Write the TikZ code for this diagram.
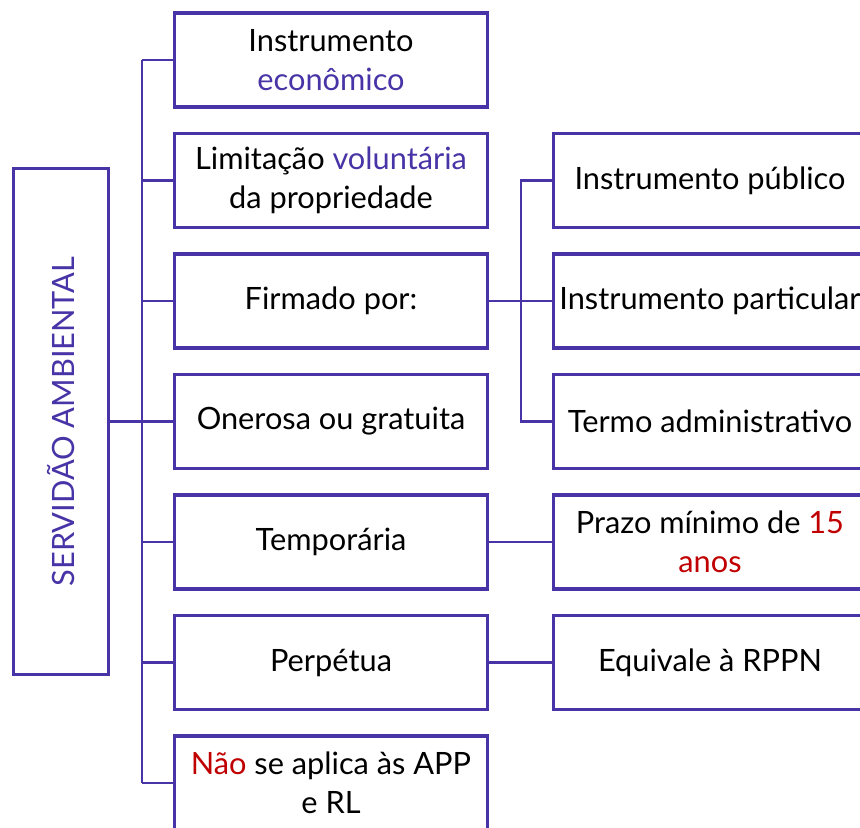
\documentclass[tikz,border=0pt]{standalone}
\usepackage{fontspec}
\setmainfont{Lato}
\usepackage{tikz}
\definecolor{roxo}{RGB}{72,52,166}
\definecolor{vermelho}{RGB}{192,0,0}

\begin{document}
\begin{tikzpicture}[x=0.02cm, y=-0.02cm,
    caixa/.style = {draw=roxo, line width=2.1pt, minimum width=6.26cm,
                    minimum height=1.88cm, align=center, inner sep=0pt,
                    font=\fontsize{17.5}{22}\selectfont},
    titulo/.style = {draw=roxo, line width=2.1pt, minimum width=1.9cm,
                     minimum height=10.12cm, inner sep=0pt},
    ligacao/.style = {draw=roxo, line width=1.4pt}]
        % page size of the reference
        \useasboundingbox (0,0) rectangle (860,828);
        \clip (0,0) rectangle (860,828);

        % left title box
        \node[titulo] (servidao) at (61,421.5) {};
        \node[rotate=90, text=roxo, font=\fontsize{17.5}{22}\selectfont] (servidaotxt) at (servidao.center) {SERVIDÃO AMBIENTAL};

        % middle column
        \node[caixa] (economico) at (331,60)    {Instrumento\\\textcolor{roxo}{econômico}};
        \node[caixa] (limitacao) at (331,180.5) {Limitação \textcolor{roxo}{voluntária}\\da propriedade};
        \node[caixa] (firmado)   at (331,301)   {Firmado por:};
        \node[caixa] (onerosa)   at (331,421.5) {Onerosa ou gratuita};
        \node[caixa] (temporaria) at (331,542)  {Temporária};
        \node[caixa] (perpetua)  at (331,662.5) {Perpétua};
        \node[caixa] (naoaplica) at (331,783)   {\textcolor{vermelho}{Não} se aplica às APP\\e RL};

        % right column
        \node[caixa] (publico)    at (710,180.5) {Instrumento público};
        \node[caixa] (particular) at (710,301)   {Instrumento particular};
        \node[caixa] (termo)      at (710,421.5) {Termo administrativo};
        \node[caixa] (prazo)      at (710,542)   {Prazo mínimo de \textcolor{vermelho}{15}\\\textcolor{vermelho}{anos}};
        \node[caixa] (rppn)       at (710,662.5) {Equivale à RPPN};

        % trunk on the left
        \coordinate (tronco) at (142,0);
        \draw[ligacao] (servidao.east) -- (onerosa.west);
        \draw[ligacao] (economico.west -| tronco) -- (naoaplica.west -| tronco);
        \foreach \b in {economico,limitacao,firmado,temporaria,perpetua,naoaplica}
            \draw[ligacao] (\b.west) -- (\b.west -| tronco);

        % fork for "Firmado por"
        \coordinate (garfo) at (521,0);
        \draw[ligacao] (firmado.east) -- (particular.west);
        \draw[ligacao] (publico.west) -- (publico.west -| garfo) -- (termo.west -| garfo) -- (termo.west);

        % single links
        \draw[ligacao] (temporaria.east) -- (prazo.west);
        \draw[ligacao] (perpetua.east) -- (rppn.west);
\end{tikzpicture}
\end{document}
